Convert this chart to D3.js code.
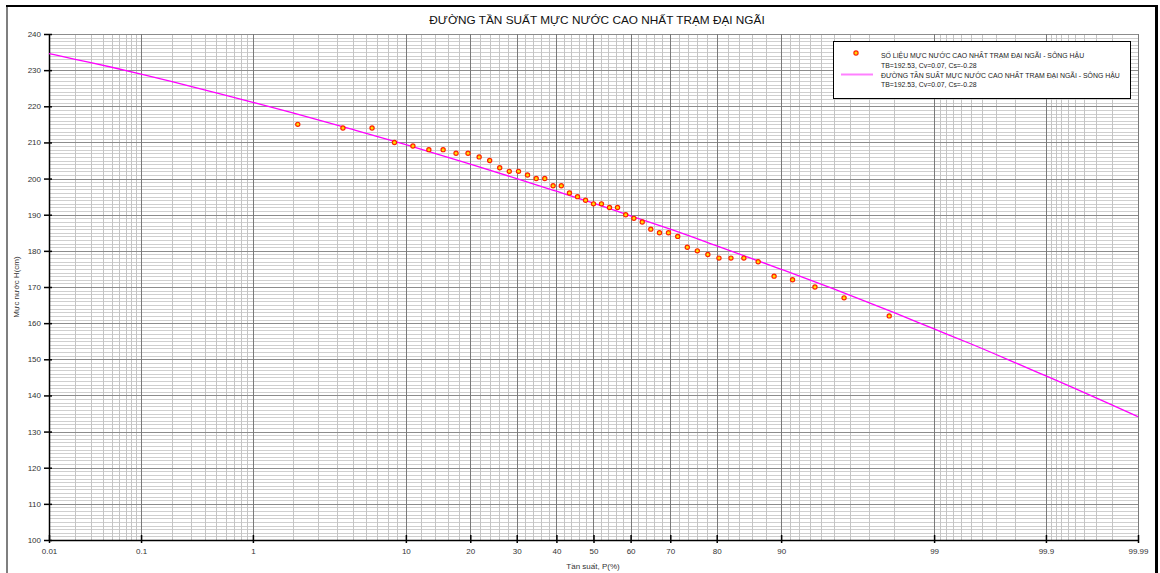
<!DOCTYPE html>
<html>
<head>
<meta charset="utf-8">
<script src="https://cdn.jsdelivr.net/npm/d3@7"></script>
<style>
  body { margin: 0; background: #fff; }
  svg text { font-family: "Liberation Sans", Arial, sans-serif; }
</style>
</head>
<body>
<svg id="chart" width="1160" height="573"></svg>
<script>
// ---- data ----
const title = 'ĐƯỜNG TẦN SUẤT MỰC NƯỚC CAO NHẤT TRẠM ĐẠI NGÃI'
const xTitle = 'Tần suất, P(%)'
const yTitle = 'Mực nước H(cm)'
const legendLabels = [
  ['SỐ LIỆU MỰC NƯỚC CAO NHẤT TRẠM ĐẠI NGÃI - SÔNG HẬU', 'TB=192.53, Cv=0.07, Cs=-0.28'],
  ['ĐƯỜNG TẦN SUẤT MỰC NƯỚC CAO NHẤT TRẠM ĐẠI NGÃI - SÔNG HẬU', 'TB=192.53, Cv=0.07, Cs=-0.28']
]

// x axis labels (probability, %)
const xTicks = [0.01, 0.1, 1, 10, 20, 30, 40, 50, 60, 70, 80, 90, 99, 99.9, 99.99]
const yTicks = [100, 110, 120, 130, 140, 150, 160, 170, 180, 190, 200, 210, 220, 230, 240]

// observed points: empirical frequency P (%) and water level H (cm)
const obsP = [2.17, 4.35, 6.52, 8.70, 10.87, 13.04, 15.22, 17.39, 19.57, 21.74,
  23.91, 26.09, 28.26, 30.43, 32.61, 34.78, 36.96, 39.13, 41.30, 43.48,
  45.65, 47.83, 50.00, 52.17, 54.35, 56.52, 58.70, 60.87, 63.04, 65.22,
  67.39, 69.57, 71.74, 73.91, 76.09, 78.26, 80.43, 82.61, 84.78, 86.96,
  89.13, 91.30, 93.48, 95.65, 97.83]
const obsH = [215, 214, 214, 210, 209, 208, 208, 207, 207, 206,
  205, 203, 202, 202, 201, 200, 200, 198, 198, 196,
  195, 194, 193, 193, 192, 192, 190, 189, 188, 186,
  185, 185, 184, 181, 180, 179, 178, 178, 178, 177,
  173, 172, 170, 167, 162]

// theoretical frequency curve
const curveP = [0.01, 0.02, 0.05, 0.1, 0.2, 0.5, 1, 2, 5, 10, 20, 30, 40, 50,
  60, 70, 80, 90, 95, 98, 99, 99.5, 99.8, 99.9, 99.95, 99.98, 99.99]
const curveH = [234.6, 233.0, 230.8, 228.9, 226.8, 223.7, 221.1, 218.2, 213.6, 209.4,
  204.0, 200.0, 196.5, 193.2, 189.7, 186.0, 181.4, 174.9, 169.4, 162.9,
  158.4, 154.3, 149.1, 145.4, 141.9, 137.4, 134.1]

// ---- probability paper helper: inverse normal cdf ----
function probit (p) {
  var a = [-3.969683028665376e+01, 2.209460984245205e+02, -2.759285104469687e+02, 1.383577518672690e+02, -3.066479806614716e+01, 2.506628277459239e+00]
  var b = [-5.447609879822406e+01, 1.615858368580409e+02, -1.556989798598866e+02, 6.680131188771972e+01, -1.328068155288572e+01]
  var c = [-7.784894002430293e-03, -3.223964580411365e-01, -2.400758277161838e+00, -2.549732539343734e+00, 4.374664141464968e+00, 2.938163982698783e+00]
  var d = [7.784695709041462e-03, 3.224671290700398e-01, 2.445134137142996e+00, 3.754408661907416e+00]
  var pl = 0.02425, q, r
  if (p < pl) {
    q = Math.sqrt(-2 * Math.log(p))
    return (((((c[0]*q+c[1])*q+c[2])*q+c[3])*q+c[4])*q+c[5]) / ((((d[0]*q+d[1])*q+d[2])*q+d[3])*q+1)
  }
  if (p <= 1 - pl) {
    q = p - 0.5; r = q * q
    return (((((a[0]*r+a[1])*r+a[2])*r+a[3])*r+a[4])*r+a[5])*q / (((((b[0]*r+b[1])*r+b[2])*r+b[3])*r+b[4])*r+1)
  }
  q = Math.sqrt(-2 * Math.log(1 - p))
  return -(((((c[0]*q+c[1])*q+c[2])*q+c[3])*q+c[4])*q+c[5]) / ((((d[0]*q+d[1])*q+d[2])*q+d[3])*q+1)
}

// minor grid positions on the probability axis
var minorP = []
;[0.01, 0.1, 1].forEach(function (base) {
  for (var k = 2; k <= 9; k++) minorP.push(+(base * k).toFixed(3))
})
for (var k = 12; k < 90; k += 2) if (k % 10 !== 0) minorP.push(k)
;[90, 99, 99.9].forEach(function (base) {
  var step = (100 - base) / 10
  for (var k = 1; k <= 8; k++) minorP.push(+(base + step * k).toFixed(3))
})

var svg = d3.select('#chart')
var plotL = 49, plotR = 1138, plotT = 34, plotB = 540

var zScale = d3.scaleLinear()
  .domain([probit(0.0001), probit(0.9999)])
  .range([plotL, plotR])
var x = function (p) { return zScale(probit(p / 100)) }
var y = d3.scaleLinear().domain([100, 240]).range([plotB, plotT])

// outer frame
svg.append('line').attr('x1', 7).attr('x2', 7).attr('y1', 6).attr('y2', 573)
  .attr('stroke', '#555').attr('stroke-width', 1.5)
svg.append('line').attr('x1', 6).attr('x2', 1157).attr('y1', 6).attr('y2', 6)
  .attr('stroke', '#000').attr('stroke-width', 2)
svg.append('line').attr('x1', 1156.5).attr('x2', 1156.5).attr('y1', 5).attr('y2', 573)
  .attr('stroke', '#000').attr('stroke-width', 3)

// grid
var grid = svg.append('g')
grid.selectAll('.hminor').data(d3.range(101, 240).filter(function (v) { return v % 10 !== 0 }))
  .join('line')
  .attr('x1', plotL).attr('x2', plotR)
  .attr('y1', function (d) { return Math.round(y(d)) + 0.5 })
  .attr('y2', function (d) { return Math.round(y(d)) + 0.5 })
  .attr('stroke', '#cfcfcf').attr('stroke-width', 1)
grid.selectAll('.vminor').data(minorP)
  .join('line')
  .attr('x1', function (d) { return Math.round(x(d)) + 0.5 })
  .attr('x2', function (d) { return Math.round(x(d)) + 0.5 })
  .attr('y1', plotT).attr('y2', plotB)
  .attr('stroke', '#c4c4c4').attr('stroke-width', 1)
grid.selectAll('.hmajor').data(yTicks)
  .join('line')
  .attr('x1', plotL).attr('x2', plotR)
  .attr('y1', function (d) { return Math.round(y(d)) + 0.5 })
  .attr('y2', function (d) { return Math.round(y(d)) + 0.5 })
  .attr('stroke', '#8c8c8c').attr('stroke-width', 1)
grid.selectAll('.vmajor').data(xTicks)
  .join('line')
  .attr('x1', function (d) { return Math.round(x(d)) + 0.5 })
  .attr('x2', function (d) { return Math.round(x(d)) + 0.5 })
  .attr('y1', plotT).attr('y2', plotB)
  .attr('stroke', '#7a7a7a').attr('stroke-width', 1)

// axes
var xAxis = d3.axisBottom(zScale)
  .tickValues(xTicks.map(function (p) { return probit(p / 100) }))
  .tickFormat(function (d, i) { return xTicks[i] })
  .tickSizeInner(0).tickSizeOuter(0).tickPadding(8)
var gx = svg.append('g').attr('transform', 'translate(0,' + plotB + ')').call(xAxis)
gx.select('.domain').attr('stroke', '#000').attr('stroke-width', 1.5)
gx.selectAll('.tick line').attr('y1', -5).attr('y2', 3).attr('stroke', '#000').attr('stroke-width', 1.5)
gx.selectAll('.tick text').attr('font-size', 8).attr('fill', '#333').attr('font-family', '"Liberation Sans", Arial, sans-serif')

var yAxis = d3.axisLeft(y).tickValues(yTicks).tickSizeInner(0).tickSizeOuter(0).tickPadding(8)
var gy = svg.append('g').attr('transform', 'translate(' + plotL + ',0)').call(yAxis)
gy.select('.domain').attr('stroke', '#000').attr('stroke-width', 1.5)
gy.selectAll('.tick line').attr('x1', -5).attr('x2', 3).attr('stroke', '#000').attr('stroke-width', 1.5)
gy.selectAll('.tick text').attr('font-size', 8).attr('fill', '#333').attr('font-family', '"Liberation Sans", Arial, sans-serif')

// frequency curve
var line = d3.line()
  .x(function (d) { return x(d[0]) })
  .y(function (d) { return y(d[1]) })
  .curve(d3.curveMonotoneX)
svg.append('path')
  .datum(d3.zip(curveP, curveH))
  .attr('d', line)
  .attr('fill', 'none').attr('stroke', '#ff00ff').attr('stroke-width', 1.3)

// observed points
svg.append('g').selectAll('circle').data(d3.zip(obsP, obsH))
  .join('circle')
  .attr('cx', function (d) { return x(d[0]) })
  .attr('cy', function (d) { return y(d[1]) })
  .attr('r', 2.1)
  .attr('fill', '#ffd800').attr('stroke', '#ff2200').attr('stroke-width', 1.2)

// titles
svg.append('text').attr('x', 597).attr('y', 24).attr('text-anchor', 'middle')
  .attr('font-size', 11.8).attr('fill', '#111').text(title)
svg.append('text').attr('x', 593).attr('y', 569).attr('text-anchor', 'middle')
  .attr('font-size', 8).attr('fill', '#333').text(xTitle)
svg.append('text').attr('transform', 'translate(19,' + 287 + ') rotate(-90)')
  .attr('text-anchor', 'middle').attr('font-size', 8).attr('fill', '#333').text(yTitle)

// legend
var lg = svg.append('g')
lg.append('rect').attr('x', 833.5).attr('y', 41.5).attr('width', 297).attr('height', 57)
  .attr('fill', '#fff').attr('stroke', '#000').attr('stroke-width', 1)
lg.append('circle').attr('cx', 856).attr('cy', 53).attr('r', 2.1)
  .attr('fill', '#ffd800').attr('stroke', '#ff2200').attr('stroke-width', 1.2)
lg.append('line').attr('x1', 841).attr('x2', 873).attr('y1', 74.5).attr('y2', 74.5)
  .attr('stroke', '#ff80ff').attr('stroke-width', 2)
legendLabels.forEach(function (lab, i) {
  lab.forEach(function (t, j) {
    lg.append('text').attr('x', 881).attr('y', 58 + i * 19.5 + j * 9.5)
      .attr('font-size', 6.9).attr('fill', '#222').text(t)
  })
})
</script>
</body>
</html>
